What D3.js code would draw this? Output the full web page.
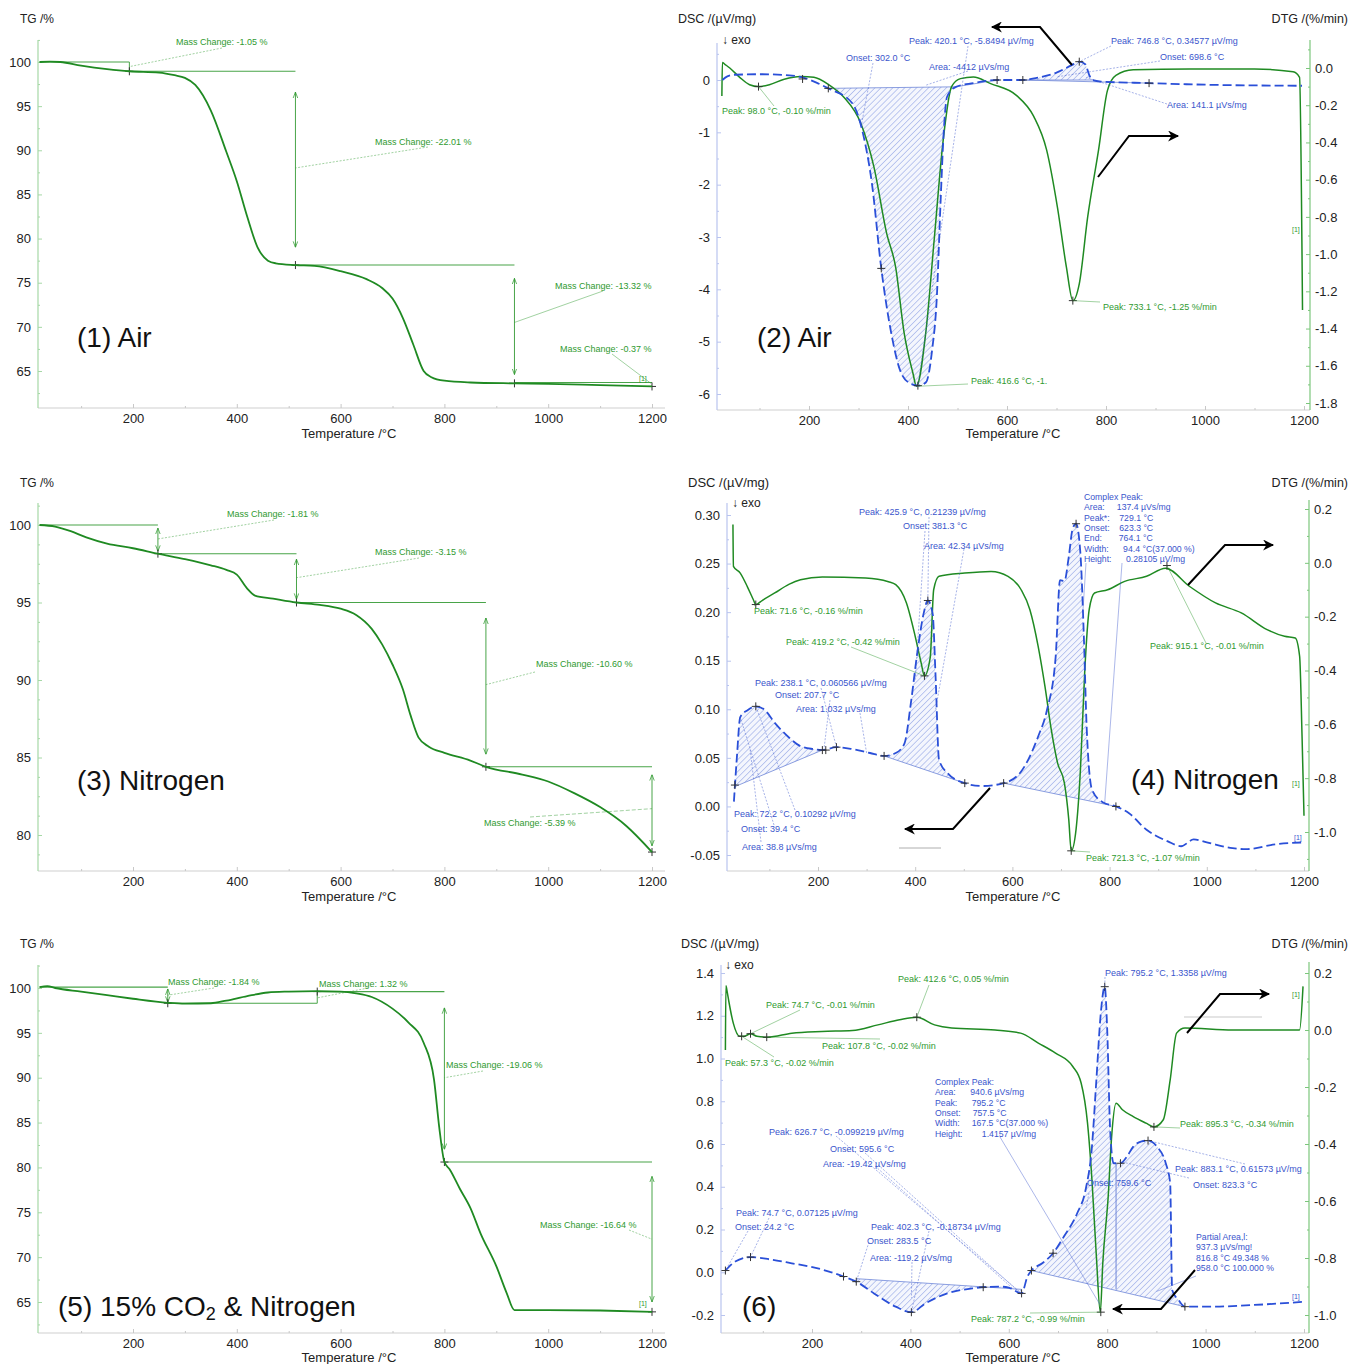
<!DOCTYPE html>
<html>
<head>
<meta charset="utf-8">
<script src="https://cdn.jsdelivr.net/npm/d3@7"></script>
<style>
body { margin: 0; background: #fff; }
svg text { font-family: "Liberation Sans", Arial, sans-serif; }
</style>
</head>
<body>
<svg id="fig" width="1349" height="1364"></svg>
<script>
//==========================================================
// Data  [temperature /°C, value]
//==========================================================
var xTicks = [200, 400, 600, 800, 1000, 1200];
var xMinor = [100, 300, 500, 700, 900, 1100];

// (1) TG, air  (mass %)
var tgAir = [[20,100],[40,100.05],[60,100],[100,99.6],[150,99.2],[193,98.95],[250,98.8],[280,98.5],[300,98.2],[320,97.4],[350,94.5],[380,89.8],[400,86.5],[420,82.5],[440,79],[460,77.5],[475,77.2],[513,77.0],[550,76.9],[600,76.3],[650,75.4],[680,74.4],[700,73.2],[720,71],[740,68],[760,65],[775,64.3],[800,63.9],[850,63.7],[935,63.6],[1000,63.55],[1100,63.4],[1200,63.25]];
var tgAirLevels = [[20,193,100.0],[193,513,98.95],[513,935,77.0],[935,1200,63.7]];
var tgAirJoins = [[193,100.0,98.95]];
var tgAirArrows = [[513,96.6,79.0],[935,75.5,64.6]];
var tgAirMarks = [[193,98.95],[513,77.0],[935,63.6],[1200,63.25]];

// (3) TG, nitrogen
var tgN2 = [[20,100],[50,99.9],[80,99.6],[110,99.2],[150,98.8],[200,98.5],[248,98.15],[300,97.8],[350,97.4],[380,97.1],[400,96.8],[420,95.9],[435,95.45],[470,95.25],[515,95.0],[560,94.85],[600,94.6],[630,94.2],[660,93.3],[680,92.3],[700,91.0],[720,89.4],[735,87.7],[750,86.3],[770,85.7],[800,85.3],[850,84.8],[880,84.4],[950,83.9],[1000,83.45],[1050,82.7],[1100,81.8],[1150,80.6],[1200,78.9]];
var tgN2Levels = [[20,248,100.0],[248,515,98.15],[515,880,95.0],[880,1200,84.4]];
var tgN2Joins = [];
var tgN2Arrows = [[248,99.8,98.3],[515,97.8,95.2],[880,94.0,85.2],[1200,83.9,79.3]];
var tgN2Marks = [[248,98.15],[515,95.0],[880,84.4],[1200,78.9]];

// (5) TG, 15% CO2 & nitrogen
var tgCO2 = [[20,100.1],[35,100.2],[50,100],[100,99.6],[150,99.2],[200,98.8],[267,98.35],[300,98.25],[350,98.3],[380,98.6],[420,99.1],[460,99.5],[500,99.6],[555,99.65],[600,99.6],[630,99.4],[660,99.0],[700,97.7],[730,96.2],[760,93.9],[780,89.8],[790,84.5],[800,80.6],[810,79.8],[830,77.6],[850,75.5],[870,72.6],[900,69.0],[920,66.0],[935,64.1],[960,64.1],[1000,64.1],[1100,64.05],[1200,63.9]];
var tgCO2Levels = [[20,267,100.1],[267,555,98.3],[555,800,99.6],[800,1200,80.6]];
var tgCO2Joins = [[555,98.3,99.6]];
var tgCO2Arrows = [[267,99.9,98.4],[800,97.8,82.0],[1200,79.0,65.0]];
var tgCO2Marks = [[267,98.3],[555,99.6],[800,80.6],[1200,63.9]];

// (2) DSC (µV/mg) and DTG (%/min), air
var dscAir = [[25,0],[35,0.07],[50,0.1],[100,0.11],[160,0.09],[190,0.04],[215,-0.05],[239,-0.16],[287,-0.44],[309,-1.02],[327,-1.97],[346,-3.6],[366,-4.83],[383,-5.52],[401,-5.78],[420,-5.84],[436,-5.78],[449,-5.14],[458,-4.19],[466,-2.29],[472,-1.02],[479,-0.32],[497,-0.13],[532,-0.06],[580,0],[632,0],[660,0.04],[700,0.14],[730,0.28],[746,0.35],[758,0.3],[766,0.1],[772,0.0],[790,-0.03],[887,-0.06],[1000,-0.09],[1196,-0.11]];
var dtgAir = [[24,-0.15],[25,0.03],[30,0.02],[40,0.0],[60,-0.05],[80,-0.09],[98,-0.10],[120,-0.09],[150,-0.06],[183,-0.045],[210,-0.05],[240,-0.09],[270,-0.156],[305,-0.30],[331,-0.53],[357,-0.89],[375,-1.07],[392,-1.42],[410,-1.64],[417,-1.71],[436,-1.42],[453,-0.92],[471,-0.39],[488,-0.10],[506,-0.057],[532,-0.048],[567,-0.084],[619,-0.147],[654,-0.26],[680,-0.44],[702,-0.75],[720,-1.07],[733,-1.25],[746,-1.16],[763,-0.80],[785,-0.44],[803,-0.12],[820,-0.04],[855,-0.01],[969,-0.005],[1100,-0.005],[1178,-0.02],[1191,-0.05],[1197,-1.3]];
var dscAirMarks = [[187,0.02],[239,-0.16],[346,-3.6],[420,-5.84],[580,0],[632,0],[746,0.35],[887,-0.06]];
var dtgAirMarks = [[98,-0.10],[733,-1.25]];

// (4) DSC and DTG, nitrogen
var dscN2 = [[27,0.005],[33,0.05],[40,0.092],[55,0.099],[72,0.103],[89,0.10],[111,0.086],[138,0.072],[164,0.062],[191,0.059],[209,0.058],[238,0.061],[271,0.059],[307,0.055],[336,0.052],[360,0.055],[378,0.065],[391,0.106],[404,0.157],[418,0.20],[426,0.212],[436,0.198],[442,0.133],[449,0.048],[467,0.034],[502,0.024],[538,0.021],[582,0.024],[618,0.036],[653,0.072],[671,0.099],[689,0.154],[698,0.233],[707,0.232],[716,0.257],[724,0.286],[731,0.291],[740,0.26],[747,0.175],[753,0.079],[764,0.017],[787,0.004],[813,0.0],[840,-0.007],[876,-0.024],[920,-0.036],[947,-0.041],[973,-0.034],[1000,-0.037],[1053,-0.043],[1080,-0.044],[1142,-0.039],[1200,-0.037]];
var dtgN2 = [[25,0.142],[26,-0.013],[40,-0.038],[55,-0.09],[67,-0.137],[72,-0.155],[85,-0.14],[111,-0.112],[140,-0.08],[164,-0.063],[209,-0.053],[298,-0.056],[345,-0.07],[360,-0.081],[382,-0.149],[400,-0.273],[412,-0.37],[419,-0.42],[431,-0.35],[438,-0.1],[449,-0.05],[502,-0.038],[556,-0.032],[591,-0.05],[618,-0.1],[636,-0.174],[653,-0.31],[667,-0.459],[680,-0.62],[693,-0.744],[707,-0.818],[716,-0.954],[721,-1.07],[731,-0.99],[740,-0.768],[749,-0.397],[758,-0.174],[769,-0.112],[796,-0.1],[831,-0.069],[876,-0.05],[915,-0.02],[964,-0.087],[1018,-0.149],[1071,-0.186],[1124,-0.248],[1160,-0.273],[1182,-0.279],[1191,-0.347],[1196,-0.645],[1200,-0.94]];
var dscN2Marks = [[29,0.022],[72,0.103],[209,0.058],[216,0.058],[238,0.061],[336,0.052],[426,0.212],[502,0.024],[582,0.024],[731,0.291],[813,0.0]];
var dtgN2Marks = [[72,-0.155],[419,-0.42],[721,-1.07],[918,-0.01]];

// (6) DSC and DTG, 15% CO2 & nitrogen
var dscCO2 = [[24,0.008],[44,0.05],[75,0.071],[115,0.06],[159,0.042],[203,0.023],[264,-0.02],[290,-0.044],[326,-0.099],[370,-0.161],[402,-0.187],[431,-0.145],[475,-0.099],[528,-0.075],[580,-0.067],[600,-0.072],[626,-0.099],[638,-0.02],[646,0.008],[668,0.042],[690,0.089],[712,0.167],[739,0.276],[756,0.385],[769,0.588],[778,0.9],[787,1.213],[795,1.336],[800,1.135],[806,0.666],[813,0.51],[827,0.51],[840,0.541],[853,0.588],[870,0.612],[883,0.616],[901,0.588],[919,0.51],[928,0.417],[932,-0.083],[945,-0.13],[958,-0.161],[1011,-0.161],[1099,-0.153],[1200,-0.138]];
var dtgCO2 = [[24,-0.07],[25,0.155],[28,0.13],[31,0.1],[40,0.024],[53,-0.022],[62,-0.022],[75,-0.013],[88,-0.022],[110,-0.025],[159,-0.011],[220,-0.005],[282,-0.002],[334,0.018],[378,0.036],[413,0.045],[449,0.018],[484,0.007],[572,0.0],[624,-0.011],[660,-0.046],[695,-0.081],[730,-0.128],[747,-0.186],[760,-0.327],[769,-0.526],[778,-0.795],[786,-0.99],[791,-0.819],[802,-0.585],[809,-0.374],[818,-0.257],[831,-0.28],[853,-0.304],[879,-0.327],[895,-0.34],[914,-0.315],[928,-0.175],[941,-0.011],[958,0.007],[1055,0.0],[1191,0.0],[1198,0.153]];
var dscCO2Marks = [[24,0.008],[75,0.071],[264,-0.02],[290,-0.044],[402,-0.187],[548,-0.07],[626,-0.099],[646,0.008],[690,0.089],[795,1.336],[827,0.51],[883,0.616],[958,-0.161]];
var dtgCO2Marks = [[57,-0.022],[75,-0.013],[108,-0.025],[413,0.045],[787,-0.99],[895,-0.34]];

//==========================================================
// Drawing helpers
//==========================================================
var GREEN = "#1f8a22", GTXT = "#2f9a2f", BLUE = "#2a4fd8", BTXT = "#3a55cc";
var svg = d3.select("#fig");
var defs = svg.append("defs");

var pat = defs.append("pattern").attr("id", "hatch").attr("patternUnits", "userSpaceOnUse")
	.attr("width", 4.2).attr("height", 4.2).attr("patternTransform", "rotate(45)");
pat.append("rect").attr("width", 4.2).attr("height", 4.2).attr("fill", "#f4f6fd");
pat.append("line").attr("x1", 0).attr("y1", 0).attr("x2", 0).attr("y2", 4.2)
	.attr("stroke", "#7890e0").attr("stroke-width", 0.9);

defs.append("marker").attr("id", "gArr").attr("viewBox", "0 0 8 8").attr("refX", 8).attr("refY", 4)
	.attr("markerWidth", 6).attr("markerHeight", 6).attr("markerUnits", "userSpaceOnUse")
	.attr("orient", "auto-start-reverse")
	.append("path").attr("d", "M0,1 L8,4 L0,7").attr("fill", "none").attr("stroke", GTXT).attr("stroke-width", 1);

defs.append("marker").attr("id", "kArr").attr("viewBox", "0 0 10 10").attr("refX", 9).attr("refY", 5)
	.attr("markerWidth", 13).attr("markerHeight", 11).attr("markerUnits", "userSpaceOnUse")
	.attr("orient", "auto")
	.append("path").attr("d", "M0,0 L10,5 L0,10 L3,5 z").attr("fill", "#000");

function fmt(f) { return function (d) { return d3.format(f)(d).replace("\u2212", "-"); }; }

function txt(g, s, x, y, color, size, anchor) {
	return g.append("text").attr("x", x).attr("y", y).attr("fill", color || "#222")
		.attr("font-size", size || 9).attr("text-anchor", anchor || "start").text(s);
}

function seg(g, x1, y1, x2, y2, color, w, dash) {
	return g.append("line").attr("x1", x1).attr("y1", y1).attr("x2", x2).attr("y2", y2)
		.attr("stroke", color).attr("stroke-width", w || 0.6).attr("stroke-dasharray", dash || null);
}

function cross(g, x, y, color) {
	g.append("path").attr("d", "M" + (x - 4) + "," + y + "h8M" + x + "," + (y - 4) + "v8")
		.attr("stroke", color || "#333").attr("stroke-width", 1);
}

function blackArrow(g, pts) {
	g.append("path").attr("d", d3.line()(pts)).attr("fill", "none").attr("stroke", "#000")
		.attr("stroke-width", 2).attr("marker-end", "url(#kArr)");
}

function inside(scale, vals, c) {
	return vals.filter(function (v) { var y = scale(v); return y >= c.top - 4 && y <= c.bottom - 2; });
}

function panel(c) {
	var p = { g: svg.append("g"), c: c };
	p.x = d3.scaleLinear().domain([200, 1200]).range(c.xr);
	p.yl = d3.scaleLinear().domain(c.ylDom).range(c.ylRng);
	if (c.yrDom) p.yr = d3.scaleLinear().domain(c.yrDom).range(c.yrRng);
	var g = p.g;

	// bottom axis
	seg(g, c.left, c.bottom, c.right, c.bottom, "#cfcfcf", 1.2);
	var bx = g.append("g").attr("transform", "translate(0," + c.bottom + ")")
		.call(d3.axisBottom(p.x).tickValues(xTicks).tickSize(-4).tickPadding(6).tickFormat(fmt("d")));
	var bm = g.append("g").attr("transform", "translate(0," + c.bottom + ")")
		.call(d3.axisBottom(p.x).tickValues(xMinor).tickSize(-2).tickFormat(""));
	[bx, bm].forEach(function (a) { a.select(".domain").remove(); a.selectAll("line").attr("stroke", "#c8c8c8"); });
	bx.selectAll("text").attr("font-size", 13).attr("fill", "#222");
	txt(g, "Temperature /\u00b0C", c.xTitle[0], c.xTitle[1], "#222", 13, "middle");

	// left axis
	seg(g, c.left, c.top, c.left, c.bottom, c.leftColor, 1.2);
	var la = g.append("g").attr("transform", "translate(" + c.left + ",0)")
		.call(d3.axisLeft(p.yl).tickValues(c.ylTicks).tickSize(-4).tickPadding(7).tickFormat(fmt(c.ylFmt)));
	var lm = g.append("g").attr("transform", "translate(" + c.left + ",0)")
		.call(d3.axisLeft(p.yl).tickValues(inside(p.yl, c.ylMinor, c)).tickSize(-2).tickFormat(""));
	[la, lm].forEach(function (a) { a.select(".domain").remove(); a.selectAll("line").attr("stroke", c.leftColor); });
	la.selectAll("text").attr("font-size", 13).attr("fill", "#222");

	// right axis
	if (p.yr) {
		seg(g, c.rightAxis, c.top - 3, c.rightAxis, c.bottom, "#7cc67c", 1.2);
		var ra = g.append("g").attr("transform", "translate(" + c.rightAxis + ",0)")
			.call(d3.axisRight(p.yr).tickValues(c.yrTicks).tickSize(-4).tickPadding(5).tickFormat(fmt(".1f")));
		var rm = g.append("g").attr("transform", "translate(" + c.rightAxis + ",0)")
			.call(d3.axisRight(p.yr).tickValues(inside(p.yr, c.yrMinor, c)).tickSize(-2).tickFormat(""));
		[ra, rm].forEach(function (a) { a.select(".domain").remove(); a.selectAll("line").attr("stroke", "#7cc67c"); });
		ra.selectAll("text").attr("font-size", 13).attr("fill", "#222");
	}
	return p;
}

function curve(p, data, ys, color, w, dash) {
	var line = d3.line().x(function (d) { return p.x(d[0]); }).y(function (d) { return ys(d[1]); })
		.curve(d3.curveMonotoneX);
	p.g.append("path").datum(data).attr("d", line).attr("fill", "none").attr("stroke", color)
		.attr("stroke-width", w).attr("stroke-dasharray", dash || null).attr("stroke-linejoin", "round");
}

function hatch(p, data, b0, b1) {
	var base = d3.scaleLinear().domain([b0[0], b1[0]]).range([b0[1], b1[1]]);
	var pts = data.filter(function (d) { return d[0] >= b0[0] && d[0] <= b1[0]; });
	var area = d3.area().x(function (d) { return p.x(d[0]); })
		.y0(function (d) { return p.yl(base(d[0])); }).y1(function (d) { return p.yl(d[1]); })
		.curve(d3.curveMonotoneX);
	p.g.append("path").datum(pts).attr("d", area).attr("fill", "url(#hatch)").attr("stroke", "none");
	seg(p.g, p.x(b0[0]), p.yl(b0[1]), p.x(b1[0]), p.yl(b1[1]), "#6f86d8", 0.8);
}

// mass change boxes / arrows for the TG panels
function massSteps(p, levels, joins, arrows, marks) {
	var g = p.g;
	levels.forEach(function (d) { seg(g, p.x(d[0]), p.yl(d[2]), p.x(d[1]), p.yl(d[2]), "#49a449", 1.1); });
	joins.forEach(function (d) { seg(g, p.x(d[0]), p.yl(d[1]), p.x(d[0]), p.yl(d[2]), "#49a449", 1); });
	arrows.forEach(function (d) {
		seg(g, p.x(d[0]), p.yl(d[1]), p.x(d[0]), p.yl(d[2]), "#49a449", 1)
			.attr("marker-start", "url(#gArr)").attr("marker-end", "url(#gArr)");
	});
	marks.forEach(function (d) { cross(g, p.x(d[0]), p.yl(d[1]), "#333"); });
}

// label with leader to a data point; to = [T, value, axis]
function note(p, s, x, y, color, lx, ly, to, dash) {
	if (to) {
		var ys = to[2] === "R" ? p.yr : p.yl;
		seg(p.g, lx, ly, p.x(to[0]), ys(to[1]), color, 0.6, dash || "2,1.5").attr("opacity", 0.75);
	}
	txt(p.g, s, x, y, color, 9);
}

//==========================================================
// (1) TG air
//==========================================================
var yTG = [65, 70, 75, 80, 85, 90, 95, 100];
var yTGm = [62.5, 67.5, 72.5, 77.5, 82.5, 87.5, 92.5, 97.5, 102.5];

var p1 = panel({ left: 38, right: 665, top: 40, bottom: 408, xr: [133, 652],
	ylDom: [100, 65], ylRng: [62, 371], ylTicks: yTG, ylMinor: yTGm, ylFmt: "d",
	leftColor: "#a6d8a6", xTitle: [349, 438] });
txt(p1.g, "TG /%", 20, 23, "#222", 12);
massSteps(p1, tgAirLevels, tgAirJoins, tgAirArrows, tgAirMarks);
curve(p1, tgAir, p1.yl, GREEN, 1.8);
note(p1, "Mass Change: -1.05 %", 176, 45, GTXT, 222, 48, [195, 99.5]);
note(p1, "Mass Change: -22.01 %", 375, 145, GTXT, 428, 147, [513, 88]);
note(p1, "Mass Change: -13.32 %", 555, 289, GTXT, 603, 291, [935, 70.5], "none");
note(p1, "Mass Change: -0.37 %", 560, 352, GTXT, 612, 354, [1198, 63.6], "none");
txt(p1.g, "[1]", 639, 381, GTXT, 7);
txt(p1.g, "(1) Air", 77, 347, "#111", 28);

//==========================================================
// (3) TG nitrogen
//==========================================================
var p3 = panel({ left: 38, right: 665, top: 503, bottom: 871, xr: [133, 652],
	ylDom: [100, 80], ylRng: [525, 835], ylTicks: [80, 85, 90, 95, 100],
	ylMinor: [78.75, 81.25, 82.5, 83.75, 86.25, 87.5, 88.75, 91.25, 92.5, 93.75, 96.25, 97.5, 98.75, 101.25], ylFmt: "d",
	leftColor: "#a6d8a6", xTitle: [349, 901] });
txt(p3.g, "TG /%", 20, 487, "#222", 12);
massSteps(p3, tgN2Levels, tgN2Joins, tgN2Arrows, tgN2Marks);
curve(p3, tgN2, p3.yl, GREEN, 1.8);
note(p3, "Mass Change: -1.81 %", 227, 517, GTXT, 274, 520, [248, 99.1]);
note(p3, "Mass Change: -3.15 %", 375, 555, GTXT, 419, 558, [515, 96.6]);
note(p3, "Mass Change: -10.60 %", 536, 667, GTXT, 535, 672, [880, 89.7]);
note(p3, "Mass Change: -5.39 %", 484, 826, GTXT, 530, 817, [1200, 81.7], "4,2");
txt(p3.g, "(3) Nitrogen", 77, 790, "#111", 28);

//==========================================================
// (5) TG 15% CO2 & nitrogen
//==========================================================
var p5 = panel({ left: 38, right: 665, top: 965, bottom: 1333, xr: [133, 652],
	ylDom: [100, 65], ylRng: [988, 1302], ylTicks: yTG, ylMinor: yTGm, ylFmt: "d",
	leftColor: "#a6d8a6", xTitle: [349, 1362] });
txt(p5.g, "TG /%", 20, 948, "#222", 12);
massSteps(p5, tgCO2Levels, tgCO2Joins, tgCO2Arrows, tgCO2Marks);
curve(p5, tgCO2, p5.yl, GREEN, 1.8);
note(p5, "Mass Change: -1.84 %", 168, 985, GTXT, 214, 988, [267, 99.2]);
note(p5, "Mass Change: 1.32 %", 319, 987, GTXT, 368, 988, [555, 98.9]);
note(p5, "Mass Change: -19.06 %", 446, 1068, GTXT, 483, 1071, [800, 90.0]);
note(p5, "Mass Change: -16.64 %", 540, 1228, GTXT, 629, 1230, [1200, 72]);
txt(p5.g, "[1]", 639, 1306, GTXT, 7);
var t5 = txt(p5.g, "(5) 15% CO", 58, 1316, "#111", 28);
t5.append("tspan").attr("font-size", 18).attr("dy", 4).text("2");
t5.append("tspan").attr("dy", -4).text(" & Nitrogen");

//==========================================================
// (2) DSC / DTG air
//==========================================================
var p2 = panel({ left: 717, right: 1310, rightAxis: 1310, top: 43, bottom: 410, xr: [809, 1304],
	ylDom: [0, -6], ylRng: [80, 394], ylTicks: [0, -1, -2, -3, -4, -5, -6],
	ylMinor: [0.5, -0.5, -1.5, -2.5, -3.5, -4.5, -5.5, -6.5], ylFmt: "d", leftColor: "#b9c4ef",
	yrDom: [0, -1.8], yrRng: [68, 403], yrTicks: [0, -0.2, -0.4, -0.6, -0.8, -1.0, -1.2, -1.4, -1.6, -1.8],
	yrMinor: [0.1, -0.1, -0.3, -0.5, -0.7, -0.9, -1.1, -1.3, -1.5, -1.7], xTitle: [1013, 438] });
txt(p2.g, "DSC /(\u00b5V/mg)", 678, 23, "#222", 12.5);
txt(p2.g, "DTG /(%/min)", 1348, 23, "#222", 12.5, "end");
txt(p2.g, "\u2193 exo", 722, 44, "#222", 12);
hatch(p2, dscAir, [239, -0.16], [497, -0.13]);
hatch(p2, dscAir, [632, 0], [772, 0.0]);
seg(p2.g, p2.x(497), p2.yl(-0.13), p2.x(580), p2.yl(0), "#6f86d8", 0.8);
seg(p2.g, p2.x(632), p2.yl(0), p2.x(887), p2.yl(-0.06), "#6f86d8", 0.8);
curve(p2, dtgAir, p2.yr, GREEN, 1.5);
curve(p2, dscAir, p2.yl, BLUE, 1.8, "9,4");
dscAirMarks.forEach(function (d) { cross(p2.g, p2.x(d[0]), p2.yl(d[1])); });
dtgAirMarks.forEach(function (d) { cross(p2.g, p2.x(d[0]), p2.yr(d[1])); });
note(p2, "Peak: 420.1 \u00b0C, -5.8494 \u00b5V/mg", 909, 44, BTXT, 968, 46, [420, -5.84]);
note(p2, "Onset: 302.0 \u00b0C", 846, 61, BTXT, 873, 63, [305, -0.9]);
note(p2, "Area: -4412 \u00b5Vs/mg", 929, 70, BTXT, 968, 71, [436, -0.1]);
note(p2, "Peak: 746.8 \u00b0C, 0.34577 \u00b5V/mg", 1111, 44, BTXT, 1111, 46, [746, 0.35]);
note(p2, "Onset: 698.6 \u00b0C", 1160, 60, BTXT, 1160, 61, [700, 0.06]);
note(p2, "Area: 141.1 \u00b5Vs/mg", 1167, 108, BTXT, 1167, 104, [760, 0.05]);
note(p2, "Peak: 98.0 \u00b0C, -0.10 %/min", 722, 114, GTXT, 774, 106, [98, -0.10, "R"], "none");
note(p2, "Peak: 733.1 \u00b0C, -1.25 %/min", 1103, 310, GTXT, 1100, 302, [733, -1.25, "R"], "none");
note(p2, "Peak: 416.6 \u00b0C, -1.", 971, 384, GTXT, 968, 384, [420, -1.71, "R"], "none");
txt(p2.g, "[1]", 1292, 232, GTXT, 7);
blackArrow(p2.g, [[1072, 65], [1040, 27], [992, 27]]);
blackArrow(p2.g, [[1098, 177], [1129, 136], [1178, 136]]);
txt(p2.g, "(2) Air", 757, 347, "#111", 28);

//==========================================================
// (4) DSC / DTG nitrogen
//==========================================================
var p4 = panel({ left: 727, right: 1309, rightAxis: 1309, top: 503, bottom: 871, xr: [818, 1304],
	ylDom: [0.30, -0.05], ylRng: [515, 855], ylTicks: [0.30, 0.25, 0.20, 0.15, 0.10, 0.05, 0.00, -0.05],
	ylMinor: [0.275, 0.225, 0.175, 0.125, 0.075, 0.025, -0.025, -0.075], ylFmt: ".2f", leftColor: "#b9c4ef",
	yrDom: [0.2, -1.0], yrRng: [509, 832], yrTicks: [0.2, 0.0, -0.2, -0.4, -0.6, -0.8, -1.0],
	yrMinor: [0.1, -0.1, -0.3, -0.5, -0.7, -0.9, -1.1], xTitle: [1013, 901] });
txt(p4.g, "DSC /(\u00b5V/mg)", 688, 487, "#222", 13);
txt(p4.g, "DTG /(%/min)", 1348, 487, "#222", 12.5, "end");
txt(p4.g, "\u2193 exo", 732, 507, "#222", 12);
hatch(p4, dscN2, [27, 0.02], [209, 0.058]);
hatch(p4, dscN2, [336, 0.052], [502, 0.024]);
hatch(p4, dscN2, [582, 0.024], [813, 0.0]);
curve(p4, dtgN2, p4.yr, GREEN, 1.5);
curve(p4, dscN2, p4.yl, BLUE, 1.8, "9,4");
dscN2Marks.forEach(function (d) { cross(p4.g, p4.x(d[0]), p4.yl(d[1])); });
dtgN2Marks.forEach(function (d) { cross(p4.g, p4.x(d[0]), p4.yr(d[1])); });
note(p4, "Peak: 425.9 \u00b0C, 0.21239 \u00b5V/mg", 859, 515, BTXT, 929, 517, [426, 0.212]);
note(p4, "Onset: 381.3 \u00b0C", 903, 529, BTXT, 925, 531, [400, 0.13]);
note(p4, "Area: 42.34 \u00b5Vs/mg", 924, 549, BTXT, 964, 549, [442, 0.10]);
note(p4, "Peak: 238.1 \u00b0C, 0.060566 \u00b5V/mg", 755, 686, BTXT, 821, 688, [238, 0.061]);
note(p4, "Onset: 207.7 \u00b0C", 775, 698, BTXT, 830, 700, [212, 0.058]);
note(p4, "Area: 1.032 \u00b5Vs/mg", 796, 712, BTXT, 860, 713, [300, 0.055]);
note(p4, "Peak: 72.2 \u00b0C, 0.10292 \u00b5V/mg", 734, 817, BTXT, 795, 810, [72, 0.103]);
note(p4, "Onset: 39.4 \u00b0C", 741, 832, BTXT, 774, 825, [40, 0.092]);
note(p4, "Area: 38.8 \u00b5Vs/mg", 742, 850, BTXT, 761, 842, [60, 0.06]);
var cp4 = ["Complex Peak:", "Area:     137.4 \u00b5Vs/mg", "Peak*:    729.1 \u00b0C", "Onset:    623.3 \u00b0C",
	"End:       764.1 \u00b0C", "Width:      94.4 \u00b0C(37.000 %)", "Height:      0.28105 \u00b5V/mg"];
cp4.forEach(function (s, i) { txt(p4.g, s, 1084, 500 + i * 10.3, BTXT, 8.7).attr("xml:space", "preserve"); });
seg(p4.g, 1122, 563, p4.x(790), p4.yl(0.004), BTXT, 0.6).attr("opacity", 0.7);
seg(p4.g, 1086, 563, p4.x(745), p4.yl(0.2), BTXT, 0.6).attr("opacity", 0.7);
note(p4, "Peak: 71.6 \u00b0C, -0.16 %/min", 754, 614, GTXT, 754, 606, [72, -0.155, "R"], "none");
note(p4, "Peak: 419.2 \u00b0C, -0.42 %/min", 786, 645, GTXT, 851, 647, [419, -0.42, "R"], "none");
note(p4, "Peak: 915.1 \u00b0C, -0.01 %/min", 1150, 649, GTXT, 1206, 643, [918, -0.01, "R"], "none");
note(p4, "Peak: 721.3 \u00b0C, -1.07 %/min", 1086, 861, GTXT, 1090, 852, [721, -1.07, "R"], "none");
txt(p4.g, "[1]", 1292, 786, GTXT, 7);
txt(p4.g, "[1]", 1294, 840, BTXT, 7);
seg(p4.g, 899, 848, 941, 848, "#999", 0.8);
blackArrow(p4.g, [[990, 788], [953, 829], [905, 829]]);
blackArrow(p4.g, [[1188, 585], [1225, 545], [1273, 545]]);
txt(p4.g, "(4) Nitrogen", 1131, 789, "#111", 28);

//==========================================================
// (6) DSC / DTG 15% CO2 & nitrogen
//==========================================================
var p6 = panel({ left: 721, right: 1309, rightAxis: 1309, top: 965, bottom: 1333, xr: [812, 1304],
	ylDom: [1.4, -0.2], ylRng: [973, 1315], ylTicks: [1.4, 1.2, 1.0, 0.8, 0.6, 0.4, 0.2, 0.0, -0.2],
	ylMinor: [1.3, 1.1, 0.9, 0.7, 0.5, 0.3, 0.1, -0.1], ylFmt: ".1f", leftColor: "#b9c4ef",
	yrDom: [0.2, -1.0], yrRng: [973, 1315], yrTicks: [0.2, 0.0, -0.2, -0.4, -0.6, -0.8, -1.0],
	yrMinor: [0.1, -0.1, -0.3, -0.5, -0.7, -0.9], xTitle: [1013, 1362] });
txt(p6.g, "DSC /(\u00b5V/mg)", 681, 948, "#222", 12.5);
txt(p6.g, "DTG /(%/min)", 1348, 948, "#222", 12.5, "end");
txt(p6.g, "\u2193 exo", 725, 969, "#222", 12);
hatch(p6, dscCO2, [290, -0.03], [626, -0.08]);
hatch(p6, dscCO2, [646, 0.008], [958, -0.161]);
seg(p6.g, p6.x(818), p6.yl(0.51), p6.x(818), p6.yl(-0.08), "#6f86d8", 1);
curve(p6, dtgCO2, p6.yr, GREEN, 1.5);
curve(p6, dscCO2, p6.yl, BLUE, 1.8, "9,4");
dscCO2Marks.forEach(function (d) { cross(p6.g, p6.x(d[0]), p6.yl(d[1])); });
dtgCO2Marks.forEach(function (d) { cross(p6.g, p6.x(d[0]), p6.yr(d[1])); });
note(p6, "Peak: 795.2 \u00b0C, 1.3358 \u00b5V/mg", 1105, 976, BTXT, 1105, 977, [795, 1.336]);
var cp6 = ["Complex Peak:", "Area:      940.6 \u00b5Vs/mg", "Peak:      795.2 \u00b0C", "Onset:     757.5 \u00b0C",
	"Width:     167.5 \u00b0C(37.000 %)", "Height:        1.4157 \u00b5V/mg"];
cp6.forEach(function (s, i) { txt(p6.g, s, 935, 1085 + i * 10.3, BTXT, 8.7).attr("xml:space", "preserve"); });
seg(p6.g, 1000, 1137, p6.x(785), p6.yl(-0.15), BTXT, 0.6).attr("opacity", 0.7);
note(p6, "Peak: 626.7 \u00b0C, -0.099219 \u00b5V/mg", 769, 1135, BTXT, 836, 1136, [626, -0.099]);
note(p6, "Onset: 595.6 \u00b0C", 830, 1152, BTXT, 865, 1153, [620, -0.09]);
note(p6, "Area: -19.42 \u00b5Vs/mg", 823, 1167, BTXT, 875, 1166, [610, -0.08]);
note(p6, "Onset: 759.6 \u00b0C", 1087, 1186, BTXT, 1089, 1193, [757, 0.3]);
note(p6, "Peak: 883.1 \u00b0C, 0.61573 \u00b5V/mg", 1175, 1172, BTXT, 1245, 1164, [883, 0.616]);
note(p6, "Onset: 823.3 \u00b0C", 1193, 1188, BTXT, 1189, 1178, [823, 0.52]);
note(p6, "Peak: 74.7 \u00b0C, 0.07125 \u00b5V/mg", 736, 1216, BTXT, 769, 1218, [75, 0.071]);
note(p6, "Onset: 24.2 \u00b0C", 735, 1230, BTXT, 748, 1231, [24, 0.008]);
note(p6, "Peak: 402.3 \u00b0C, -0.18734 \u00b5V/mg", 871, 1230, BTXT, 929, 1231, [402, -0.187]);
note(p6, "Onset: 283.5 \u00b0C", 867, 1244, BTXT, 869, 1242, [290, -0.044]);
note(p6, "Area: -119.2 \u00b5Vs/mg", 870, 1261, BTXT, 912, 1262, [402, -0.12]);
var pa6 = ["Partial Area,l:", "937.3 \u00b5Vs/mg!", "816.8 \u00b0C 49.348 %", "958.0 \u00b0C 100.000 %"];
pa6.forEach(function (s, i) { txt(p6.g, s, 1196, 1240 + i * 10.3, BTXT, 8.7); });
seg(p6.g, 1196, 1276, p6.x(900), p6.yl(-0.09), BTXT, 0.6).attr("opacity", 0.7);
note(p6, "Peak: 412.6 \u00b0C, 0.05 %/min", 898, 982, GTXT, 929, 985, [413, 0.045, "R"], "none");
note(p6, "Peak: 74.7 \u00b0C, -0.01 %/min", 766, 1008, GTXT, 800, 1010, [75, -0.013, "R"], "none");
note(p6, "Peak: 107.8 \u00b0C, -0.02 %/min", 822, 1049, GTXT, 880, 1039, [108, -0.025, "R"], "none");
note(p6, "Peak: 57.3 \u00b0C, -0.02 %/min", 725, 1066, GTXT, 774, 1057, [57, -0.022, "R"], "none");
note(p6, "Peak: 895.3 \u00b0C, -0.34 %/min", 1180, 1127, GTXT, 1180, 1128, [895, -0.34, "R"], "none");
note(p6, "Peak: 787.2 \u00b0C, -0.99 %/min", 971, 1322, GTXT, 1030, 1313, [787, -0.99, "R"], "none");
txt(p6.g, "[1]", 1292, 997, GTXT, 7);
txt(p6.g, "[1]", 1292, 1299, BTXT, 7);
seg(p6.g, 1184, 1017, 1262, 1017, "#bbb", 0.8);
blackArrow(p6.g, [[1187, 1033], [1220, 994], [1269, 994]]);
blackArrow(p6.g, [[1195, 1270], [1161, 1309], [1113, 1309]]);
txt(p6.g, "(6)", 742, 1316, "#111", 28);
</script>
</body>
</html>
